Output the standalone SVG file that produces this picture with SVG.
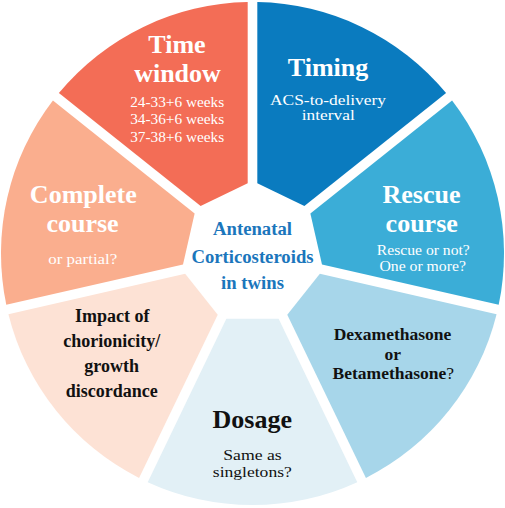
<svg xmlns="http://www.w3.org/2000/svg" width="505" height="508" viewBox="0 0 505 508">
<style>
text{font-family:"Liberation Serif","Times New Roman",serif;text-anchor:middle}
.h{font-weight:bold;font-size:26px}
.s{font-size:15px}
.b{font-weight:bold;font-size:18px}
.d{font-weight:bold;font-size:17.5px}
.c{font-weight:bold;font-size:18.7px;fill:#1B76BC}
.w{fill:#ffffff}
.k{fill:#111111}
</style>
<rect width="505" height="508" fill="#ffffff"/>
<g id="timing">
<path d="M257.3 2.05 A251.5 251.5 0 0 1 446.10 92.97 L304.38 205.99 L257.3 183.31 Z" fill="#0A7BBF"/>
<text class="h w" x="328" y="76">Timing</text>
<text class="s w" x="328" y="104.5" textLength="116" lengthAdjust="spacingAndGlyphs">ACS-to-delivery</text>
<text class="s w" x="328.3" y="119.5" textLength="53" lengthAdjust="spacingAndGlyphs">interval</text>
</g>
<g id="rescue-course">
<path d="M452.09 100.47 A251.5 251.5 0 0 1 498.72 304.77 L322.00 264.44 L310.37 213.49 Z" fill="#3BADD7"/>
<text class="h w" x="421.5" y="202.5">Rescue</text>
<text class="h w" x="421.7" y="231.7">course</text>
<text class="s w" x="423.3" y="255" textLength="93" lengthAdjust="spacingAndGlyphs">Rescue or not?</text>
<text class="s w" x="422.7" y="270.5" textLength="86.5" lengthAdjust="spacingAndGlyphs">One or more?</text>
</g>
<g id="dexamethasone">
<path d="M496.58 314.13 A251.5 251.5 0 0 1 365.93 477.97 L287.28 314.66 L319.86 273.80 Z" fill="#A7D6EA"/>
<text class="d k" x="392.5" y="340">Dexamethasone</text>
<text class="d k" x="392.8" y="360">or</text>
<text class="d k" x="393.3" y="379">Betamethasone<tspan font-weight="normal">?</tspan></text>
</g>
<g id="dosage">
<path d="M357.28 482.14 A251.5 251.5 0 0 1 147.72 482.14 L226.37 318.82 L278.63 318.82 Z" fill="#E2F0F6"/>
<text class="h k" x="252.3" y="428.3">Dosage</text>
<text class="k" font-size="15.5" x="252.5" y="460" textLength="58.5" lengthAdjust="spacingAndGlyphs">Same as</text>
<text class="k" font-size="15.5" x="252.3" y="476.7" textLength="79" lengthAdjust="spacingAndGlyphs">singletons?</text>
</g>
<g id="impact">
<path d="M139.07 477.97 A251.5 251.5 0 0 1 8.42 314.13 L185.14 273.80 L217.72 314.66 Z" fill="#FDE2D5"/>
<text class="b k" x="112.3" y="321.7">Impact of</text>
<text class="b k" x="111.7" y="346.7">chorionicity/</text>
<text class="b k" x="111.7" y="371.7">growth</text>
<text class="b k" x="111.7" y="397.3">discordance</text>
</g>
<g id="complete-course">
<path d="M6.28 304.77 A251.5 251.5 0 0 1 52.91 100.47 L194.63 213.49 L183.00 264.44 Z" fill="#FAAE8E"/>
<text class="h w" x="83.3" y="203.3">Complete</text>
<text class="h w" x="82.5" y="232.3">course</text>
<text class="s w" x="82.8" y="263.5" textLength="69" lengthAdjust="spacingAndGlyphs">or partial?</text>
</g>
<g id="time-window">
<path d="M58.90 92.97 A251.5 251.5 0 0 1 247.70 2.05 L247.7 183.31 L200.62 205.99 Z" fill="#F36D56"/>
<text class="h w" x="177" y="53.3">Time</text>
<text class="h w" x="177.5" y="81.7">window</text>
<text class="s w" x="177.2" y="106.7" textLength="94" lengthAdjust="spacingAndGlyphs">24-33+6 weeks</text>
<text class="s w" x="177.2" y="124.2" textLength="94" lengthAdjust="spacingAndGlyphs">34-36+6 weeks</text>
<text class="s w" x="177.2" y="141.7" textLength="94" lengthAdjust="spacingAndGlyphs">37-38+6 weeks</text>
</g>
<g id="center">
<text class="c" x="252.5" y="235.3">Antenatal</text>
<text class="c" x="252.5" y="262.5">Corticosteroids</text>
<text class="c" x="252.5" y="289.3">in twins</text>
</g>
<g id="connectors"/>
</svg>
